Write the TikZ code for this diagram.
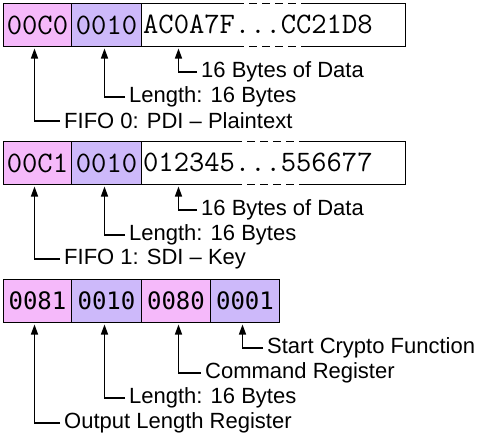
\documentclass[tikz,border=0pt]{standalone}
\usepackage{fontspec}
\setmainfont{Liberation Sans}
\newfontfamily\monoB{DejaVu Sans Mono}
\usetikzlibrary{arrows.meta}
\definecolor{pinkc}{RGB}{245,185,250}
\definecolor{purpc}{RGB}{205,185,250}
\tikzset{
  cell/.style={draw=black, line width=1pt, minimum height=43pt, inner sep=0pt, anchor=north west,
    font=\ttfamily\fontsize{29.7}{29.7}\selectfont},
  cellB/.style={cell, font=\monoB\fontsize{24}{24}\selectfont},
  pk/.style={fill=pinkc},
  pp/.style={fill=purpc},
  dtxt/.style={anchor=west, inner sep=0pt, font=\ttfamily\fontsize{29.7}{29.7}\selectfont},
  lbl/.style={anchor=west, inner xsep=4pt, inner ysep=0pt, font=\fontsize{22}{22}\selectfont},
  conn/.style={line width=1.3pt, -{Triangle[length=10pt,width=7pt]}, shorten >=1.5pt},
  dsh/.style={line width=1pt, dash pattern=on 8pt off 5pt}
}
\begin{document}
\begin{tikzpicture}[x=1pt,y=-1pt]
\useasboundingbox (0,0) rectangle (493,439);
% ---- Row 1
\node[cell,pk,minimum width=68pt] (b11) at (3,3) {00C0};
\node[cell,pp,minimum width=70pt] (b12) at (71,3) {0010};
\node[cell,fill=white,minimum width=264pt] (b13) at (141,3) {};
\draw[white, line width=2pt] (236,3) -- (302,3) (236,46) -- (302,46);
\draw[dsh] (236,3) -- (302,3) (236,46) -- (302,46);
\node[dtxt] (t13) at (143,24.5) {AC0A7F...CC21D8};
\node[lbl] (l13) at (197,72) {16 Bytes of Data};
\node[lbl] (l12) at (125,97) {Length: 16 Bytes};
\node[lbl] (l11) at (60,121) {FIFO 0: PDI – Plaintext};
\draw[conn] (l13.west) -| ([xshift=-95pt]b13.south);
\draw[conn] (l12.west) -| ([xshift=-2pt]b12.south);
\draw[conn] (l11.west) -| ([xshift=-3pt]b11.south);
% ---- Row 2
\node[cell,pk,minimum width=68pt] (b21) at (3,141) {00C1};
\node[cell,pp,minimum width=70pt] (b22) at (71,141) {0010};
\node[cell,fill=white,minimum width=264pt] (b23) at (141,141) {};
\draw[white, line width=2pt] (234,141) -- (302,141) (234,184) -- (302,184);
\draw[dsh] (234,141) -- (302,141) (234,184) -- (302,184);
\node[dtxt] (t23) at (143,162.5) {012345...556677};
\node[lbl] (l23) at (197,210) {16 Bytes of Data};
\node[lbl] (l22) at (125,235) {Length: 16 Bytes};
\node[lbl] (l21) at (60,259) {FIFO 1: SDI – Key};
\draw[conn] (l23.west) -| ([xshift=-95pt]b23.south);
\draw[conn] (l22.west) -| ([xshift=-2pt]b22.south);
\draw[conn] (l21.west) -| ([xshift=-3pt]b21.south);
% ---- Row 3
\node[cellB,pk,minimum width=68pt] (b31) at (3,279) {0081};
\node[cellB,pp,minimum width=70pt] (b32) at (71,279) {0010};
\node[cellB,pk,minimum width=69pt] (b33) at (141,279) {0080};
\node[cellB,pp,minimum width=69pt] (b34) at (210,279) {0001};
\node[lbl] (l34) at (263,348) {Start Crypto Function};
\node[lbl] (l33) at (201,373) {Command Register};
\node[lbl] (l32) at (125,398) {Length: 16 Bytes};
\node[lbl] (l31) at (60,423) {Output Length Register};
\draw[conn] (l34.west) -| ([xshift=-2.5pt]b34.south);
\draw[conn] (l33.west) -| ([xshift=2.5pt]b33.south);
\draw[conn] (l32.west) -| ([xshift=-2pt]b32.south);
\draw[conn] (l31.west) -| ([xshift=-3pt]b31.south);
\end{tikzpicture}
\end{document}
